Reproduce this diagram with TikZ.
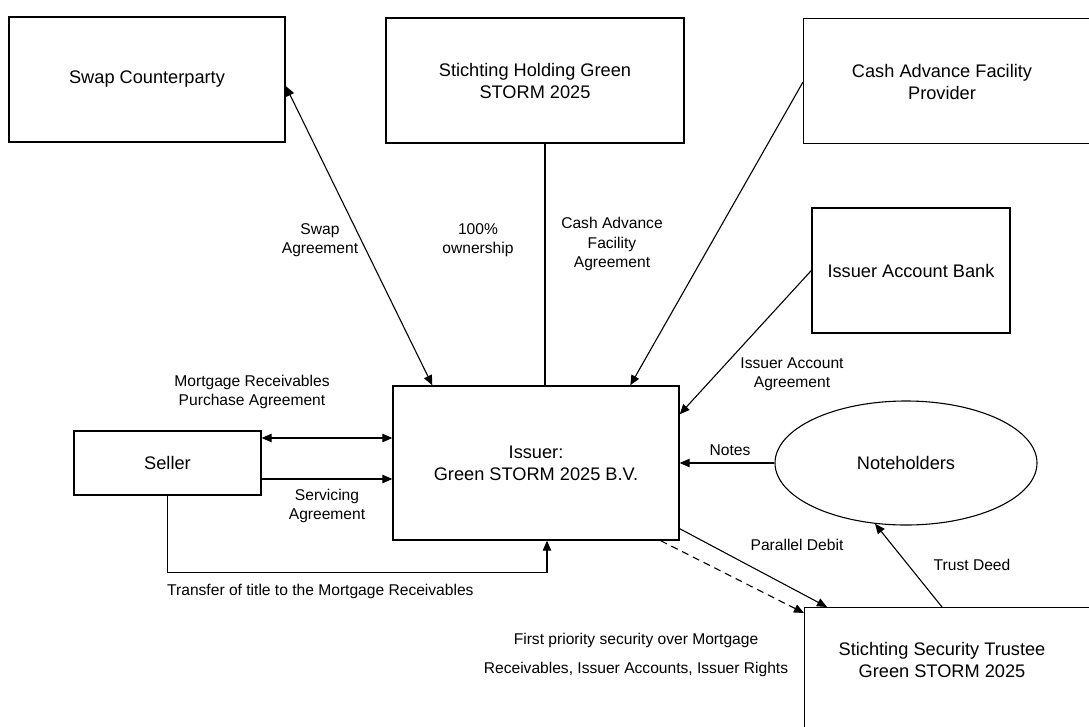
\documentclass[tikz,border=0pt]{standalone}
\usepackage{fontspec}
\setmainfont{Liberation Sans}
\usetikzlibrary{arrows.meta,calc,shapes.geometric}
\tikzset{
  box/.style={draw, line width=1.4pt, rectangle, align=center, inner sep=0pt,
    font=\fontsize{18.2}{22}\selectfont},
  boxtext/.style={align=center, inner sep=0pt, font=\fontsize{18.2}{22}\selectfont},
  lbl/.style={align=center, inner sep=0pt, font=\fontsize{15.6}{19.5}\selectfont},
  conn/.style={line width=1.1pt},
  tip/.style={-{Triangle[length=10pt,width=8.5pt]}},
  dtip/.style={{Triangle[length=10pt,width=8.5pt]}-{Triangle[length=10pt,width=8.5pt]}},
}
\begin{document}
\begin{tikzpicture}[x=1pt,y=-1pt]
\useasboundingbox (0,0) rectangle (1089,726);
\clip (0,0) rectangle (1089,726);
% nodes
\node[box, minimum width=276pt, minimum height=125pt] (swap) at (147,79.5) {Swap Counterparty};
\node[box, minimum width=298pt, minimum height=125pt] (holding) at (535,80.5) {Stichting Holding Green\\STORM 2025};
\node[box, minimum width=300pt, minimum height=125pt, anchor=north west] (cafp) at (803,18) {};
\node[boxtext] (cafptext) at (942,82) {Cash Advance Facility\\Provider};
\node[box, minimum width=198pt, minimum height=125pt] (iab) at (911,270.5) {Issuer Account Bank};
\node[box, minimum width=286pt, minimum height=154pt] (issuer) at (536,463) {Issuer:\\Green STORM 2025 B.V.};
\node[box, minimum width=187pt, minimum height=64pt] (seller) at (167.5,463) {Seller};
\node[draw, line width=1.1pt, ellipse, minimum width=262pt, minimum height=124pt, inner sep=0pt,
  font=\fontsize{18.2}{22}\selectfont] (noteholders) at (906,463) {Noteholders};
\node[box, minimum width=300pt, minimum height=154pt, anchor=north west] (trustee) at (804,607) {};
\node[boxtext] (trusteetext) at (942,660) {Stichting Security Trustee\\Green STORM 2025};
% connectors
\draw[conn, dtip] (swap.east) ++(0,6.5) coordinate (swapend) -- ($(issuer.north west)+(40,0)$);
\draw[conn] ($(holding.south)+(10,0)$) coordinate (hold) -- (hold |- issuer.north);
\draw[conn, tip] ($(cafp.north west)+(0,64)$) -- ($(issuer.north west)+(238,0)$);
\draw[conn, tip] (iab.west) -- ($(issuer.north east)+(0,29)$);
\draw[conn, dtip] ($(seller.east)+(0,-25)$) coordinate (mrpa) -- (mrpa -| issuer.west);
\draw[conn, tip] ($(seller.east)+(0,16)$) coordinate (serv) -- (serv -| issuer.west);
\draw[conn, tip] (seller.south) -- ++(0,77) -| ($(issuer.south)+(11,0)$);
\draw[conn, tip] (noteholders.west) -- (issuer.east);
\draw[conn, tip] ($(issuer.south east)+(0,-12)$) -- ($(trustee.north west)+(23,0)$);
\draw[conn, tip, dashed, dash pattern=on 7pt off 5pt] ($(issuer.south east)+(-19,0)$) -- ($(trustee.north west)+(0,6)$);
\draw[conn, tip] ($(trustee.north west)+(138,0)$) -- (noteholders.243);
% labels
\node[lbl] (lswap) at (320,240) {Swap\\Agreement};
\node[lbl] (lown) at (478,240) {100\%\\ownership};
\node[lbl] (lcafa) at (612,244) {Cash Advance\\Facility\\Agreement};
\node[lbl] (liaa) at (792,374) {Issuer Account\\Agreement};
\node[lbl] (lmrpa) at (252,392) {Mortgage Receivables\\Purchase Agreement};
\node[lbl] (lserv) at (327,506) {Servicing\\Agreement};
\node[lbl, anchor=west] (ltrans) at (167,591) {Transfer of title to the Mortgage Receivables};
\node[lbl] (lnotes) at (730,450) {Notes};
\node[lbl] (lpar) at (797,545) {Parallel Debit};
\node[lbl] (ltrust) at (972,565) {Trust Deed};
\node[lbl, font=\fontsize{15.6}{29}\selectfont] (lsec) at (636,655) {First priority security over Mortgage\\Receivables, Issuer Accounts, Issuer Rights};
\end{tikzpicture}
\end{document}
